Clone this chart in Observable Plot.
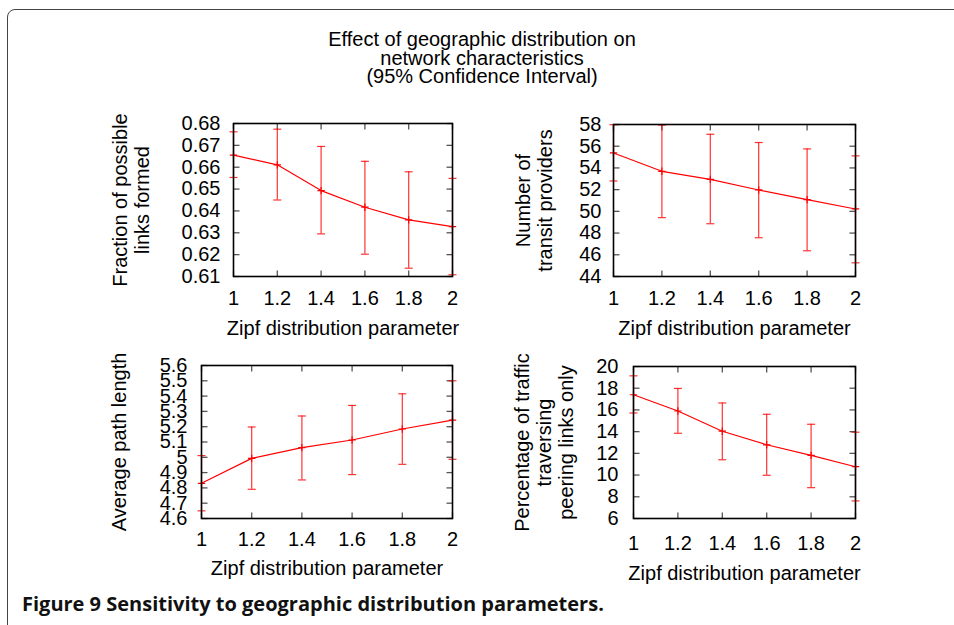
<!DOCTYPE html>
<html>
<head>
<meta charset="utf-8">
<script src="https://cdn.jsdelivr.net/npm/d3@7"></script>
<script src="https://cdn.jsdelivr.net/npm/@observablehq/plot@0.6"></script>
<style>
  html, body { margin: 0; padding: 0; background: #fff; }
  #fig { position: relative; width: 954px; height: 625px; overflow: hidden; background: #fff; }
  #border { position: absolute; left: 7px; top: 9px; width: 1000px; height: 700px; border: 1.5px solid #444; border-radius: 8px; box-sizing: border-box; }
  #title { position: absolute; left: 5px; width: 954px; top: 30px; text-align: center; font-family: "Liberation Sans", Arial, sans-serif; font-size: 20px; line-height: 18.5px; color: #000; }
  .panel { position: absolute; }
  #caption { position: absolute; left: 22px; top: 590px; font-family: "Open Sans", sans-serif; font-weight: bold; font-size: 20px; color: #111; white-space: nowrap; }
</style>
</head>
<body>
<div id="fig">
  <div id="border"></div>
  <div id="title">Effect of geographic distribution on<br>network characteristics<br>(95% Confidence Interval)</div>
  <div id="p1" class="panel"></div>
  <div id="p2" class="panel"></div>
  <div id="p3" class="panel"></div>
  <div id="p4" class="panel"></div>
  <div id="caption">Figure 9 Sensitivity to geographic distribution parameters.</div>
</div>
<script>
// ---------- data ----------
const zipf = [1, 1.2, 1.4, 1.6, 1.8, 2];
const xTicks = [1, 1.2, 1.4, 1.6, 1.8, 2];
const xLabel = "Zipf distribution parameter";

const linksMean = [0.6655, 0.6611, 0.6493, 0.6417, 0.6359, 0.6328];
const linksLow  = [0.6553, 0.6450, 0.6295, 0.6202, 0.6138, 0.6108];
const linksHigh = [0.6762, 0.6774, 0.6695, 0.6627, 0.6579, 0.6549];
const linksTicks = [0.61, 0.62, 0.63, 0.64, 0.65, 0.66, 0.67, 0.68];
const linksLabel = "Fraction of possible\nlinks formed";

const transitMean = [55.38, 53.69, 52.95, 51.97, 51.08, 50.22];
const transitLow  = [52.80, 49.42, 48.86, 47.57, 46.37, 45.26];
const transitHigh = [57.98, 57.95, 57.10, 56.34, 55.75, 55.11];
const transitTicks = [44, 46, 48, 50, 52, 54, 56, 58];
const transitLabel = "Number of\ntransit providers";

const pathMean = [4.830, 4.993, 5.063, 5.113, 5.185, 5.243];
const pathLow  = [4.650, 4.791, 4.852, 4.887, 4.954, 4.987];
const pathHigh = [5.011, 5.198, 5.270, 5.339, 5.415, 5.500];
const pathTicks = [4.6, 4.7, 4.8, 4.9, 5.0, 5.1, 5.2, 5.3, 5.4, 5.5, 5.6];
const pathLabel = "Average path length";

const peerMean = [17.40, 15.90, 14.04, 12.79, 11.81, 10.77];
const peerLow  = [15.72, 13.85, 11.41, 9.98, 8.84, 7.62];
const peerHigh = [19.14, 17.98, 16.64, 15.60, 14.68, 13.95];
const peerTicks = [6, 8, 10, 12, 14, 16, 18, 20];
const peerLabel = "Percentage of traffic\ntraversing\npeering links only";

// ---------- symbols ----------
const capSym = {draw(c) { c.moveTo(-4, 0); c.lineTo(4, 0); }};
const tickInFromLeft = {draw(c) { c.moveTo(0, 0); c.lineTo(6, 0); }};
const tickInFromRight = {draw(c) { c.moveTo(0, 0); c.lineTo(-6, 0); }};
const tickInFromBottom = {draw(c) { c.moveTo(0, 0); c.lineTo(0, -6); }};
const tickInFromTop = {draw(c) { c.moveTo(0, 0); c.lineTo(0, 6); }};

const fontFamily = '"Liberation Sans", Arial, Helvetica, sans-serif';
const fmt = d3.format("~g");

function panel(el, cfg) {
  const {mean, low, high, yTicks, yLabel, box, frame, xPad, yPad, labelDx, xLabelDy} = cfg;
  const data = zipf.map((x, i) => ({x, y: mean[i], lo: low[i], hi: high[i]}));
  const yDom = [yTicks[0], yTicks[yTicks.length - 1]];
  const xDom = [xTicks[0], xTicks[xTicks.length - 1]];
  const ml = frame[0] - box[0], mt = frame[1] - box[1];
  const mr = box[0] + box[2] - frame[2], mb = box[1] + box[3] - frame[3];
  el.style.left = box[0] + "px";
  el.style.top = box[1] + "px";
  const chart = Plot.plot({
    width: box[2], height: box[3],
    marginLeft: ml, marginTop: mt, marginRight: mr, marginBottom: mb,
    style: {fontFamily, fontSize: "20px", color: "#000", background: "transparent", overflow: "visible"},
    x: {domain: xDom},
    y: {domain: yDom},
    marks: [
      // inward tick marks on all four sides
      Plot.dot(yTicks, {x: xDom[0], y: d => d, symbol: tickInFromLeft, r: 1, fill: "none", stroke: "#555", strokeWidth: 1.3}),
      Plot.dot(yTicks, {x: xDom[1], y: d => d, symbol: tickInFromRight, r: 1, fill: "none", stroke: "#555", strokeWidth: 1.3}),
      Plot.dot(xTicks, {x: d => d, y: yDom[0], symbol: tickInFromBottom, r: 1, fill: "none", stroke: "#555", strokeWidth: 1.3}),
      Plot.dot(xTicks, {x: d => d, y: yDom[1], symbol: tickInFromTop, r: 1, fill: "none", stroke: "#555", strokeWidth: 1.3}),
      // error bars
      Plot.ruleX(data, {x: "x", y1: "lo", y2: "hi", stroke: "#ff0000", strokeOpacity: 0.8, strokeWidth: 1.2}),
      Plot.dot(data, {x: "x", y: "lo", symbol: capSym, r: 1, fill: "none", stroke: "#ff0000", strokeOpacity: 0.8, strokeWidth: 1.2}),
      Plot.dot(data, {x: "x", y: "hi", symbol: capSym, r: 1, fill: "none", stroke: "#ff0000", strokeOpacity: 0.8, strokeWidth: 1.2}),
      // mean line with plus markers
      Plot.line(data, {x: "x", y: "y", stroke: "#ff0000", strokeWidth: 1.2}),
      Plot.dot(data, {x: "x", y: "y", symbol: "plus", r: 2.5, stroke: "#ff0000", strokeWidth: 1.2}),
      Plot.frame({stroke: "#000", strokeWidth: 1.6}),
      Plot.axisX(xTicks, {anchor: "bottom", tickSize: 0, tickPadding: xPad, label: null, fontSize: 20, tickFormat: fmt}),
      Plot.axisY(yTicks, {anchor: "left", tickSize: 0, tickPadding: yPad, label: null, fontSize: 20, tickFormat: fmt}),
      Plot.text([xLabel], {frameAnchor: "bottom", dy: xLabelDy, textAnchor: "middle", lineAnchor: "middle", fontSize: 20, fill: "#000"}),
      Plot.text([yLabel], {frameAnchor: "left", dx: labelDx, rotate: -90, textAnchor: "middle", lineAnchor: "middle", lineHeight: 1.1, fontSize: 20, fill: "#000"})
    ]
  });
  el.appendChild(chart);
}

panel(document.getElementById("p1"), {
  mean: linksMean, low: linksLow, high: linksHigh, yTicks: linksTicks, yLabel: linksLabel,
  box: [95, 100, 370, 245], frame: [233, 123, 452, 276], xPad: 14, yPad: 13, labelDx: -103, xLabelDy: 52
});
panel(document.getElementById("p2"), {
  mean: transitMean, low: transitLow, high: transitHigh, yTicks: transitTicks, yLabel: transitLabel,
  box: [490, 100, 380, 245], frame: [613, 124, 855, 276], xPad: 14, yPad: 12, labelDx: -80, xLabelDy: 52
});
panel(document.getElementById("p3"), {
  mean: pathMean, low: pathLow, high: pathHigh, yTicks: pathTicks, yLabel: pathLabel,
  box: [95, 345, 370, 245], frame: [201, 365, 452, 518], xPad: 13, yPad: 14, labelDx: -83, xLabelDy: 50
});
panel(document.getElementById("p4"), {
  mean: peerMean, low: peerLow, high: peerHigh, yTicks: peerTicks, yLabel: peerLabel,
  box: [490, 345, 380, 245], frame: [633, 366, 855, 518], xPad: 17, yPad: 15, labelDx: -90, xLabelDy: 55
});
</script>
</body>
</html>
